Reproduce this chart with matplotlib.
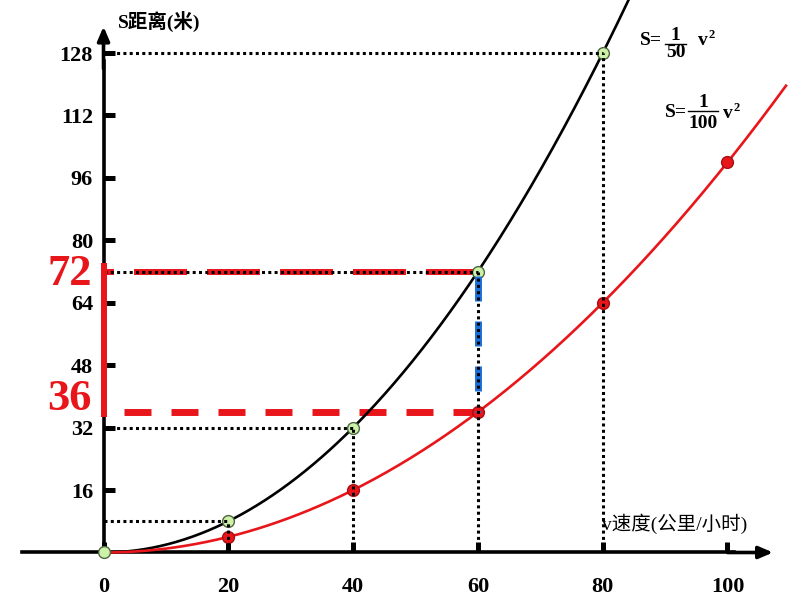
import matplotlib
matplotlib.use('Agg')
import matplotlib.pyplot as plt
import numpy as np
from matplotlib.lines import Line2D

# ---------------- data ----------------
v_black = [0, 20, 40, 60, 80]          # points on S = v^2/50
s_black = [0, 8, 32, 72, 128]
v_red = [20, 40, 60, 80, 100]          # points on S = v^2/100
s_red = [4, 16, 36, 64, 100]
coef = [50, 100]                       # S = v^2 / k
v_end = [86, 109.5]                    # where each drawn curve stops
xticks = [0, 20, 40, 60, 80, 100]
yticks = [16, 32, 48, 64, 80, 96, 112, 128]
highlight_s = [36, 72]
highlight_v = 60
xlabel = 'v速度(公里/小时)'
ylabel = 'S距离(米)'

# ---------------- style ----------------
W, H = 794, 596
RED = '#e8161b'
BLUE = '#1c6fd8'
GREEN = '#ccf2a8'
plt.rcParams['font.family'] = ['Liberation Serif', 'Noto Sans CJK SC', 'DejaVu Sans']
plt.rcParams['font.weight'] = 'bold'

fig = plt.figure(figsize=(W / 100, H / 100), dpi=100)
ax = fig.add_axes([0, 0, 1, 1])
ax.set_xlim(-16.59, 110.66)
ax.set_ylim(-11.15, 141.6)
ax.patch.set_visible(False)

def fx(px):
    return px / W

def fy(py):
    return 1 - py / H

PT = 0.72  # points per pixel

def dash(on_px, off_px, off0_px, lw_pt):
    return (off0_px * PT / lw_pt, (on_px * PT / lw_pt, off_px * PT / lw_pt))

# axes (spines through zero)
for s in ['top', 'right']:
    ax.spines[s].set_visible(False)
ax.spines['left'].set_position(('data', 0))
ax.spines['bottom'].set_position(('data', 0))
ax.spines['left'].set_linewidth(2.6)
ax.spines['bottom'].set_linewidth(2.6)
ax.spines['left'].set_bounds(0, 126)
ax.spines['bottom'].set_bounds(-13, 101)
ax.annotate('', xy=(107.3, 0), xytext=(100, 0),
            arrowprops=dict(arrowstyle='-|>,head_length=0.7,head_width=0.3',
                            lw=2.6, color='k', mutation_scale=12, shrinkA=0, shrinkB=0))
ax.annotate('', xy=(0, 134.8), xytext=(0, 124),
            arrowprops=dict(arrowstyle='-|>,head_length=0.7,head_width=0.3',
                            lw=2.6, color='k', mutation_scale=12, shrinkA=0, shrinkB=0))

ax.set_xticks(xticks)
ax.set_xticklabels([str(t) for t in xticks])
ax.set_yticks(yticks)
ax.set_yticklabels([str(t) for t in yticks])
ax.tick_params(axis='x', direction='in', length=7.5, width=3.6, pad=17.5,
               labelsize=16)
ax.tick_params(axis='y', direction='in', length=8, width=3.6, pad=7.5,
               labelsize=16)

# curves
for k, ve, col in zip(coef, v_end, ['black', RED]):
    v = np.linspace(0, ve, 400)
    ax.plot(v, v ** 2 / k, color=col, lw=1.9, zorder=3, solid_capstyle='butt')

# highlighted red dashes
ax.plot([0, highlight_v], [highlight_s[1]] * 2, color=RED, lw=4.3,
        linestyle=dash(53, 20, 43, 4.3), zorder=2)
ax.plot([0, highlight_v], [highlight_s[0]] * 2, color=RED, lw=5.0,
        linestyle=dash(27, 20, 27, 5.0), zorder=2)
# blue dashes on v = 60
ax.plot([highlight_v] * 2, [highlight_s[1], highlight_s[0]], color=BLUE, lw=5.0,
        linestyle=dash(25, 20, 41, 5.0), zorder=4.5)
# red bracket on the y axis
ax.plot([0, 0], [highlight_s[0] - 1.3, highlight_s[1] + 2.3], color=RED, lw=4.3,
        zorder=6, solid_capstyle='butt')

# markers
ax.plot(v_black, s_black, 'o', ms=8.5, mfc=GREEN, mec='#4d6640', mew=1.0, zorder=4)
ax.plot(v_red, s_red, 'o', ms=8.5, mfc=RED, mec='#a80f12', mew=1.0, zorder=4)

# dotted guides for the black points
dot = dash(3, 3.3, 0, 2.2)
for v, s in zip(v_black[1:], s_black[1:]):
    ax.plot([0, v], [s, s], color='black', lw=2.2, linestyle=dot, zorder=5)
    ax.plot([v, v], [0, s], color='black', lw=2.2, linestyle=dot, zorder=5)

# big red labels
ax.text(-5.4, highlight_s[1] - 0.6, str(highlight_s[1]), color=RED, fontsize=32,
        ha='center', va='center', zorder=7)
ax.text(-5.5, highlight_s[0] + 3.4, str(highlight_s[0]), color=RED, fontsize=32,
        ha='center', va='center', zorder=7)

# axis labels
fig.text(fx(118), fy(21), ylabel, fontsize=14, ha='left', va='center')
fig.text(fx(602), fy(524), xlabel, fontsize=14, ha='left', va='center',
         fontweight='normal')

# formulas (baseline positions in pixels)
def formula(x_s, base_s, den, xbar0, xbar1, y_bar, base_num, base_den, x_v, base_v):
    fig.text(fx(x_s), fy(base_s), 'S=', fontsize=14, ha='left', va='baseline')
    xm = (xbar0 + xbar1) / 2
    fig.text(fx(xm), fy(base_num), '1', fontsize=14, ha='center', va='baseline')
    fig.text(fx(xm), fy(base_den), den, fontsize=14, ha='center', va='baseline')
    fig.add_artist(Line2D([fx(xbar0), fx(xbar1)], [fy(y_bar)] * 2,
                          color='black', lw=1.0))
    fig.text(fx(x_v), fy(base_v), 'v', fontsize=14, ha='left', va='baseline')
    fig.text(fx(x_v + 10.5), fy(base_v - 7), '2', fontsize=9, ha='left',
             va='baseline')

formula(640, 45, '50', 665, 686, 44, 40, 57, 698, 45)
formula(665, 117, '100', 688, 718, 110.5, 107, 128, 723, 118)

fig.savefig('out.png', dpi=100)
